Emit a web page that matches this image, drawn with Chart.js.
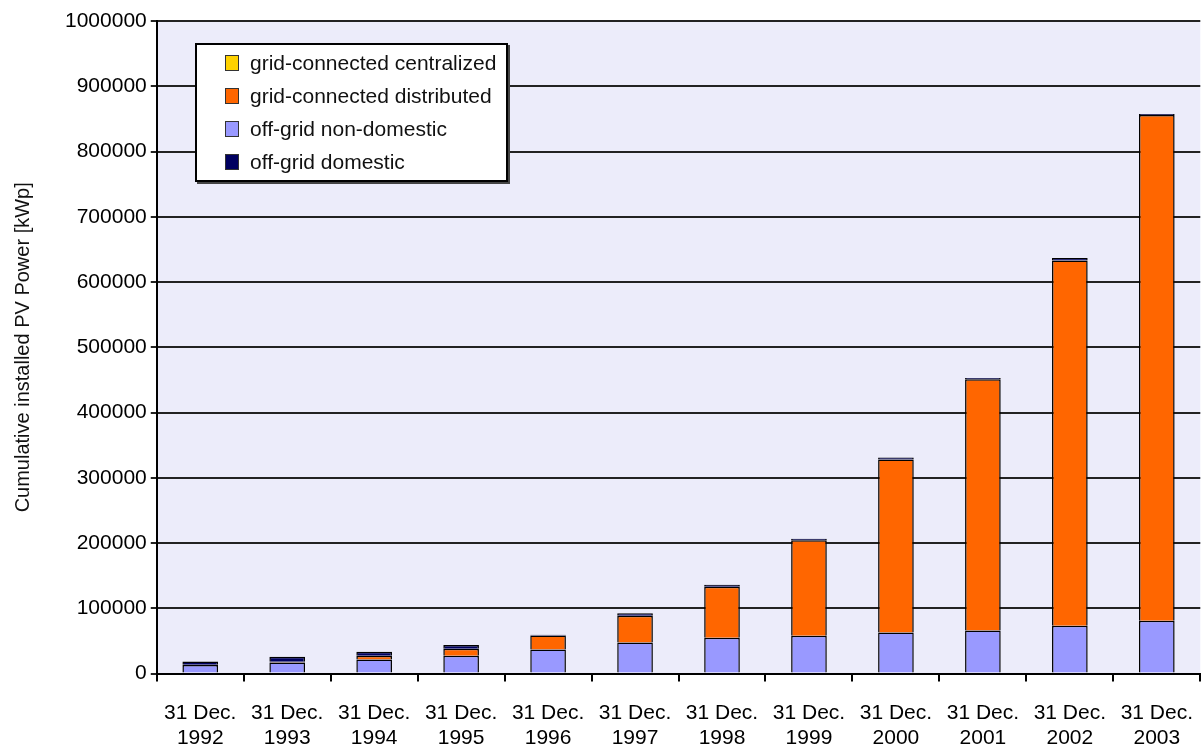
<!DOCTYPE html>
<html>
<head>
<meta charset="utf-8">
<script src="https://cdn.jsdelivr.net/npm/chart.js@4/dist/chart.umd.min.js"></script>
<style>
  body { margin: 0; background: #fff; font-family: "Liberation Sans", Arial, sans-serif; }
  #wrap { position: relative; width: 1202px; height: 746px; overflow: hidden; }
  #legend {
    position: absolute; left: 195px; top: 43px; width: 313px; height: 139px;
    background: #fff; border: 2px solid #000; box-shadow: 2px 2px 0 #444;
    box-sizing: border-box; padding: 1px 0 0 28px;
  }
  #legend div { height: 33px; line-height: 33px; font-size: 21px; color: #111; white-space: nowrap; }
  #legend span.sw {
    display: inline-block; width: 12px; height: 14px; border: 1.5px solid #333;
    margin-right: 11px; vertical-align: -1px;
  }
</style>
</head>
<body>
<div id="wrap">
  <canvas id="chart" width="1212" height="770"></canvas>
  <div id="legend"></div>
</div>
<script>
const categories = [
  ['31 Dec.', '1992'], ['31 Dec.', '1993'], ['31 Dec.', '1994'], ['31 Dec.', '1995'],
  ['31 Dec.', '1996'], ['31 Dec.', '1997'], ['31 Dec.', '1998'], ['31 Dec.', '1999'],
  ['31 Dec.', '2000'], ['31 Dec.', '2001'], ['31 Dec.', '2002'], ['31 Dec.', '2003']
];

// kWp
const offGridNonDomestic = [13000, 17000, 21500, 27500, 37000, 47500, 55000, 58000, 63000, 66000, 73500, 81000];
const gridDistributed = [500, 1000, 6000, 10500, 21500, 41000, 78000, 146500, 265000, 385000, 559500, 775000];
const offGridDomestic = [5000, 8000, 6000, 6000, 1000, 4000, 3000, 2000, 3000, 2000, 4000, 1500];
const gridCentralized = [0, 0, 0, 0, 0, 0, 0, 0, 0, 0, 0, 0];

const seriesNames = ['grid-connected centralized', 'grid-connected distributed', 'off-grid non-domestic', 'off-grid domestic'];
const seriesColors = ['#ffd200', '#ff6600', '#9999ff', '#000060'];

const legendEl = document.getElementById('legend');
seriesNames.forEach((name, i) => {
  const row = document.createElement('div');
  row.innerHTML = `<span class="sw" style="background:${seriesColors[i]}"></span>${name}`;
  legendEl.appendChild(row);
});

const plotBackground = {
  id: 'plotBackground',
  beforeDraw(chart) {
    const { ctx, chartArea: a } = chart;
    ctx.save();
    ctx.fillStyle = '#ececfa';
    ctx.fillRect(a.left, a.top, a.right - a.left, a.bottom - a.top);
    ctx.restore();
  }
};

const barStyle = { borderColor: '#000', borderWidth: 1.5, barPercentage: 0.82, categoryPercentage: 0.5 };

new Chart(document.getElementById('chart').getContext('2d'), {
  type: 'bar',
  data: {
    labels: categories,
    datasets: [
      { label: seriesNames[2], data: offGridNonDomestic, backgroundColor: seriesColors[2], ...barStyle },
      { label: seriesNames[1], data: gridDistributed, backgroundColor: seriesColors[1], ...barStyle },
      { label: seriesNames[3], data: offGridDomestic, backgroundColor: seriesColors[3], ...barStyle },
      { label: seriesNames[0], data: gridCentralized, backgroundColor: seriesColors[0], ...barStyle }
    ]
  },
  options: {
    responsive: false,
    animation: false,
    devicePixelRatio: 1,
    layout: { padding: { top: 21, right: 0, left: 7, bottom: 0 } },
    plugins: { legend: { display: false }, tooltip: { enabled: false } },
    scales: {
      x: {
        stacked: true,
        border: { color: '#000', width: 2 },
        grid: { offset: true, drawOnChartArea: false, drawTicks: true, tickLength: 8, color: '#000', lineWidth: 2 },
        ticks: { color: '#000', font: { family: 'Liberation Sans', size: 21 }, padding: 19, maxRotation: 0, autoSkip: false }
      },
      y: {
        stacked: true,
        min: 0,
        max: 1000000,
        border: { color: '#000', width: 2 },
        grid: { color: '#222', lineWidth: 2, tickLength: 6 },
        ticks: {
          stepSize: 100000, color: '#000', font: { family: 'Liberation Sans', size: 21 }, padding: 4,
          callback: v => String(v)
        },
        title: {
          display: true,
          text: 'Cumulative installed PV Power [kWp]',
          color: '#111',
          font: { family: 'Liberation Sans', size: 20 },
          padding: { top: 4, bottom: 26 }
        }
      }
    }
  },
  plugins: [plotBackground]
});
</script>
</body>
</html>
